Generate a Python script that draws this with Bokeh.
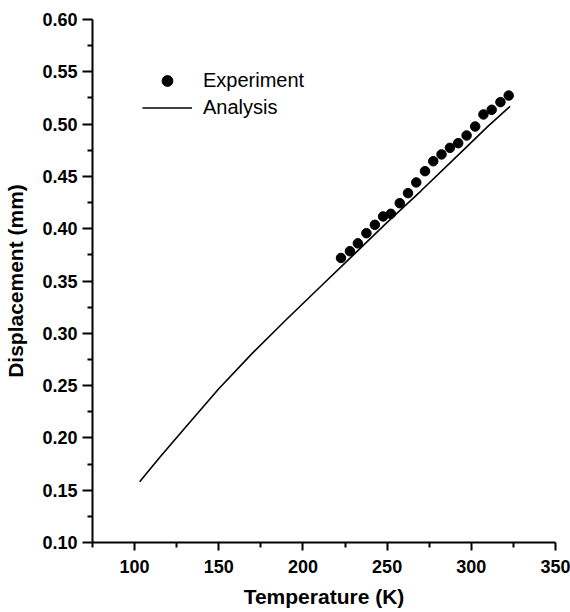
from bokeh.plotting import figure
from bokeh.models import (Range1d, FixedTicker, PrintfTickFormatter,
                          Legend, LegendItem)
from bokeh.embed import file_html
from bokeh.resources import INLINE

exp_T = [222.6, 227.9, 232.6, 237.7, 242.7, 247.6, 252.2, 257.5, 262.4, 267.3,
         272.5, 277.4, 282.3, 287.3, 292.2, 297.2, 302.3, 307.2, 312.1, 317.3, 322.2]
exp_disp = [0.372, 0.3785, 0.386, 0.3957, 0.4037, 0.4117, 0.4142, 0.4244, 0.434, 0.4442,
            0.455, 0.4645, 0.471, 0.4773, 0.4818, 0.4891, 0.4977, 0.5092, 0.5137, 0.521, 0.5273]

# Analysis curve
ana_T = [103, 115, 130, 150, 170, 190, 210, 230, 250, 270, 290, 310, 323]
ana_disp = [0.158, 0.1815, 0.2097, 0.247, 0.281, 0.313, 0.344, 0.375, 0.406, 0.436,
            0.467, 0.498, 0.517]

# Axis ticks
x_major = [100, 150, 200, 250, 300, 350]
x_minor = [75, 125, 175, 225, 275, 325]
y_major = [0.10, 0.15, 0.20, 0.25, 0.30, 0.35, 0.40, 0.45, 0.50, 0.55, 0.60]
y_minor = [0.125, 0.175, 0.225, 0.275, 0.325, 0.375, 0.425, 0.475, 0.525, 0.575]

FONT = "Liberation Sans"

p = figure(width=570, height=612, output_backend="svg", toolbar_location=None,
           x_range=Range1d(75, 350), y_range=Range1d(0.10, 0.60),
           min_border_left=92, min_border_right=15, min_border_top=19, min_border_bottom=70)
p.outline_line_color = None
p.xgrid.visible = False
p.ygrid.visible = False
p.background_fill_color = "white"
p.border_fill_color = "white"

line_r = p.line(ana_T, ana_disp, line_color="black", line_width=1.6)
pts_r = p.scatter(exp_T, exp_disp, marker="circle", size=9.5, fill_color="black", line_color="black")

p.xaxis.ticker = FixedTicker(ticks=x_major, minor_ticks=x_minor)
p.yaxis.ticker = FixedTicker(ticks=[v - 1e-9 if v == 0.60 else v for v in y_major], minor_ticks=y_minor)
p.yaxis.formatter = PrintfTickFormatter(format="%.2f")

for ax in (p.xaxis[0], p.yaxis[0]):
    ax.axis_line_width = 2
    ax.major_tick_line_width = 2
    ax.minor_tick_line_width = 2
    ax.major_tick_in = 0
    ax.minor_tick_in = 0
    ax.major_label_text_font = FONT
    ax.major_label_text_font_style = "bold"
    ax.major_label_text_font_size = "18px"
    ax.major_label_text_color = "black"
    ax.axis_label_text_font = FONT
    ax.axis_label_text_font_style = "bold"
    ax.axis_label_text_font_size = "21px"
    ax.axis_label_text_color = "black"

p.xaxis.major_tick_out = 8
p.xaxis.minor_tick_out = 5
p.yaxis.major_tick_out = 10
p.yaxis.minor_tick_out = 5
p.xaxis.major_label_standoff = 9
p.yaxis.major_label_standoff = 5
p.xaxis.axis_label = "Temperature (K)"
p.yaxis.axis_label = "Displacement (mm)"
p.xaxis.axis_label_standoff = 9
p.yaxis.axis_label_standoff = 12

legend = Legend(items=[LegendItem(label="Experiment", renderers=[pts_r]),
                       LegendItem(label="Analysis", renderers=[line_r])],
                location=(50, 421), padding=0, margin=0, spacing=0,
                glyph_width=50, glyph_height=27, label_height=27, label_standoff=11,
                label_text_font=FONT, label_text_font_size="20px", label_text_color="black",
                border_line_color=None, background_fill_alpha=0)
p.add_layout(legend)

open("out.html", "w").write(file_html(p, INLINE))
